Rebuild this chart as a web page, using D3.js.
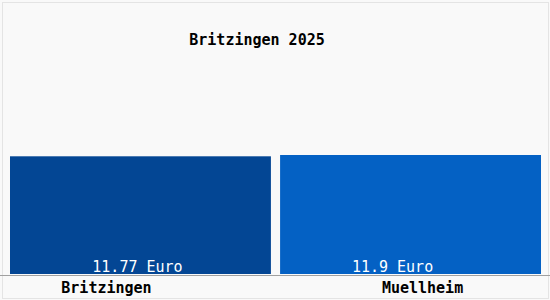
<!DOCTYPE html>
<html>
<head>
<meta charset="utf-8">
<script src="https://cdn.jsdelivr.net/npm/d3@7"></script>
<style>
  html, body { margin: 0; padding: 0; background: #fff; }
  svg { display: block; }
  text { font-family: 'DejaVu Sans Mono', monospace; font-size: 15px; }
</style>
</head>
<body>
<div id="chart"></div>
<script>
const title = 'Britzingen 2025';
const places = ['Britzingen', 'Muellheim'];
const wages = [11.77, 11.9];
const valueLabels = ['11.77 Euro', '11.9 Euro'];
const barColors = ['#034694', '#0461c4'];

const width = 550, height = 300;
const plot = { left: 10, right: 541, top: 36, bottom: 274 };

const svg = d3.select('#chart')
  .append('svg')
  .attr('width', width)
  .attr('height', height);

// background + faint frame
svg.append('rect')
  .attr('x', 0).attr('y', 0)
  .attr('width', width).attr('height', height)
  .style('fill', '#f9f9f9');
svg.append('rect')
  .attr('x', 2.5).attr('y', 2.5)
  .attr('width', width - 4).attr('height', height - 4)
  .style('fill', 'none')
  .style('stroke', '#e4e4e4');

const x = d3.scaleBand()
  .domain(places)
  .range([plot.left, plot.right])
  .paddingInner(0.034);

const y = d3.scaleLinear()
  .domain([0, d3.max(wages) * 2])
  .range([plot.bottom, plot.top]);

svg.append('g')
  .selectAll('rect')
  .data(places)
  .enter().append('rect')
  .attr('x', (d) => x(d))
  .attr('y', (d, i) => y(wages[i]))
  .attr('width', x.bandwidth())
  .attr('height', (d, i) => y(0) - y(wages[i]))
  .style('fill', (d, i) => barColors[i]);

// baseline
svg.append('line')
  .attr('x1', 0).attr('x2', width)
  .attr('y1', plot.bottom + 1.5).attr('y2', plot.bottom + 1.5)
  .style('stroke', '#a0a0a0')
  .style('stroke-width', 1);

// value labels inside bars
const valueShift = [-3, -18];
svg.append('g')
  .selectAll('text')
  .data(places)
  .enter().append('text')
  .attr('x', (d, i) => x(d) + x.bandwidth() / 2 + valueShift[i])
  .attr('y', plot.bottom - 2)
  .attr('text-anchor', 'middle')
  .style('fill', '#fff')
  .text((d, i) => valueLabels[i]);

// category labels
const catShift = [-34, 12];
svg.append('g')
  .selectAll('text')
  .data(places)
  .enter().append('text')
  .attr('x', (d, i) => x(d) + x.bandwidth() / 2 + catShift[i])
  .attr('y', 293)
  .attr('text-anchor', 'middle')
  .style('fill', '#000')
  .style('font-weight', 'bold')
  .text((d) => d);

svg.append('text')
  .attr('x', 257)
  .attr('y', 45)
  .attr('text-anchor', 'middle')
  .style('fill', '#000')
  .style('font-weight', 'bold')
  .text(title);
</script>
</body>
</html>
